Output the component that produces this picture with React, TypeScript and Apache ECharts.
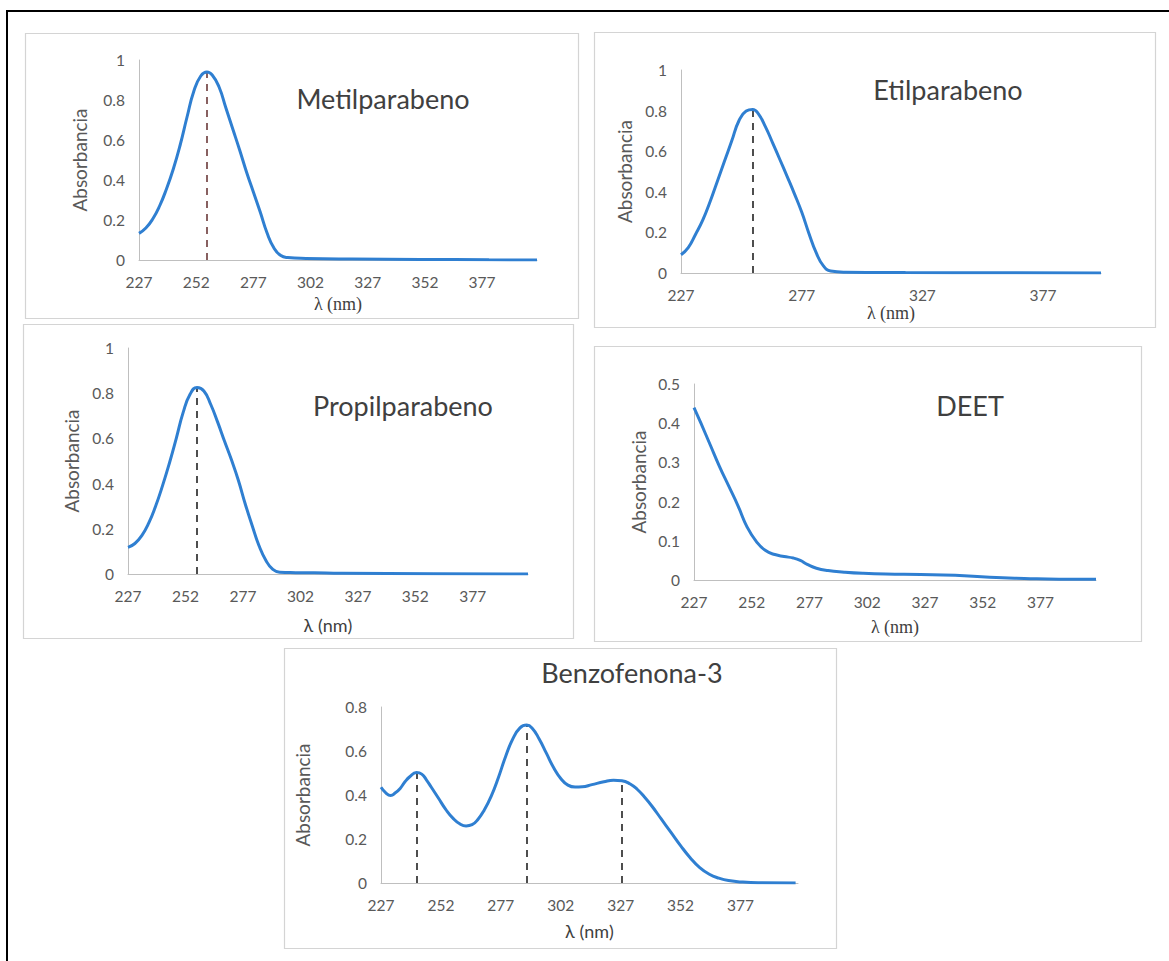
import { useEffect, useRef } from "react";
import * as echarts from "echarts";

// ---------- DATA ----------
const metilX = [227, 230, 233, 236, 239, 242, 245, 248, 251, 254, 256.7, 259, 262, 265, 268, 271, 274, 277, 280, 283, 286, 289, 292, 300, 320, 350, 380, 401];
const metilY = [0.133, 0.16, 0.205, 0.27, 0.355, 0.455, 0.575, 0.715, 0.845, 0.92, 0.94, 0.925, 0.865, 0.76, 0.655, 0.55, 0.44, 0.34, 0.24, 0.135, 0.06, 0.022, 0.012, 0.008, 0.005, 0.003, 0.001, 0];
const metilPeakX = [256.7];
const metilPeakY = [0.94];

const etilX = [227, 230, 233, 236, 239, 242, 245, 248, 251, 254, 256.7, 259, 262, 265, 268, 271, 274, 277, 280, 283, 286, 289, 295, 320, 360, 401];
const etilY = [0.09, 0.125, 0.19, 0.26, 0.35, 0.45, 0.55, 0.65, 0.75, 0.798, 0.806, 0.785, 0.72, 0.64, 0.558, 0.475, 0.39, 0.3, 0.195, 0.1, 0.035, 0.01, 0.004, 0.002, 0.001, 0];
const etilPeakX = [256.7];
const etilPeakY = [0.806];

const propilX = [227, 230, 233, 236, 239, 242, 245, 248, 251, 254, 257, 260, 263, 266, 269, 272, 275, 278, 281, 284, 287, 290, 293, 300, 308, 320, 360, 401];
const propilY = [0.118, 0.135, 0.17, 0.225, 0.3, 0.39, 0.49, 0.6, 0.715, 0.795, 0.825, 0.81, 0.75, 0.672, 0.587, 0.505, 0.415, 0.31, 0.215, 0.125, 0.06, 0.02, 0.008, 0.006, 0.005, 0.003, 0.001, 0];
const propilPeakX = [257];
const propilPeakY = [0.825];

const deetX = [227, 230, 234, 238, 242, 246, 250, 254, 258, 262, 266, 270, 273, 276, 280, 285, 292, 300, 310, 325, 340, 355, 370, 385, 401];
const deetY = [0.44, 0.4, 0.345, 0.29, 0.24, 0.19, 0.135, 0.098, 0.075, 0.065, 0.06, 0.056, 0.05, 0.04, 0.03, 0.024, 0.02, 0.017, 0.015, 0.014, 0.012, 0.007, 0.004, 0.002, 0.002];

const benzoX = [227, 229, 231, 233, 235, 237, 239, 241.8, 244, 246, 248, 251, 254, 257, 260, 262.5, 265, 267.5, 270, 273, 276, 279, 282, 285, 287.8, 290, 293, 296, 299, 302, 305, 308, 311, 315, 320, 324, 327.5, 331, 334, 337, 340, 344, 348, 352, 356, 360, 364, 368, 372, 378, 385, 400];
const benzoY = [0.435, 0.41, 0.398, 0.41, 0.43, 0.46, 0.483, 0.502, 0.495, 0.468, 0.435, 0.385, 0.335, 0.295, 0.268, 0.259, 0.265, 0.29, 0.33, 0.395, 0.48, 0.575, 0.655, 0.705, 0.718, 0.705, 0.655, 0.59, 0.525, 0.475, 0.445, 0.436, 0.437, 0.447, 0.46, 0.467, 0.465, 0.45, 0.425, 0.39, 0.35, 0.29, 0.23, 0.17, 0.115, 0.07, 0.04, 0.022, 0.011, 0.004, 0.001, 0];
const benzoPeakX = [241.8, 287.8, 327.5];
const benzoPeakY = [0.502, 0.718, 0.465];

const ticksAll = [227, 252, 277, 302, 327, 352, 377];
const ticksEtil = [227, 277, 327, 377];

const titles = ["Metilparabeno", "Etilparabeno", "Propilparabeno", "DEET", "Benzofenona-3"];
const yAxisName = "Absorbancia";
const xAxisName = "λ (nm)";

// ---------- LAYOUT ----------
const SANS = "Lato";
const SERIF = "Liberation Serif";
const BLUE = "#2f7fd1";

const panels = [
  { box: [25, 33, 553, 285], grid: { left: 139, top: 60, width: 398, height: 200 }, yMax: 1, yInt: 0.2, ticks: ticksAll, yGap: 50, xGap: 35, xFont: SERIF, title: [383, 98], x: metilX, y: metilY, px: metilPeakX, py: metilPeakY, dash: "#6b3a3a" },
  { box: [594, 32, 561, 295], grid: { left: 681, top: 70, width: 420, height: 203 }, yMax: 1, yInt: 0.2, ticks: ticksEtil, yGap: 47, xGap: 31, xFont: SERIF, title: [948, 89], x: etilX, y: etilY, px: etilPeakX, py: etilPeakY, dash: "#222" },
  { box: [23, 324, 550, 314], grid: { left: 128, top: 348, width: 400, height: 226 }, yMax: 1, yInt: 0.2, ticks: ticksAll, yGap: 47, xGap: 42, xFont: SANS, title: [403, 405], x: propilX, y: propilY, px: propilPeakX, py: propilPeakY, dash: "#222" },
  { box: [594, 346, 547, 295], grid: { left: 694, top: 384, width: 402, height: 196 }, yMax: 0.5, yInt: 0.1, ticks: ticksAll, yGap: 46, xGap: 38, xFont: SERIF, title: [970, 405], x: deetX, y: deetY, px: [] as number[], py: [] as number[], dash: "#222" },
  { box: [284, 648, 552, 300], grid: { left: 381, top: 707, width: 417, height: 176 }, yMax: 0.8, yInt: 0.2, ticks: ticksAll, yGap: 69, xGap: 39, xFont: SANS, title: [632, 672], x: benzoX, y: benzoY, px: benzoPeakX, py: benzoPeakY, dash: "#222" },
];

export default function App() {
  const ref = useRef<HTMLDivElement>(null);

  useEffect(() => {
    const chart = echarts.init(ref.current!, null, { renderer: "svg" });

    const grid = panels.map((p) => ({ ...p.grid, containLabel: false }));

    const xAxis = panels.map((p, i) => ({
      type: "value",
      gridIndex: i,
      min: 227,
      max: 401,
      axisLine: { show: true, lineStyle: { color: "#bfbfbf", width: 1 } },
      axisTick: { show: false },
      splitLine: { show: false },
      axisLabel: { customValues: p.ticks, color: "#595959", fontFamily: SANS, fontSize: 15.5, margin: 14 },
      name: xAxisName,
      nameLocation: "middle",
      nameGap: p.xGap,
      nameTextStyle: { fontFamily: p.xFont, fontSize: 18, color: "#404040" },
    }));

    const yAxis = panels.map((p, i) => ({
      type: "value",
      gridIndex: i,
      min: 0,
      max: p.yMax,
      interval: p.yInt,
      axisLine: { show: true, lineStyle: { color: "#bfbfbf", width: 1 } },
      axisTick: { show: false },
      splitLine: { show: false },
      axisLabel: { color: "#595959", fontFamily: SANS, fontSize: 15.5, margin: 14 },
      name: yAxisName,
      nameLocation: "middle",
      nameRotate: 90,
      nameGap: p.yGap,
      nameTextStyle: { fontFamily: SANS, fontSize: 19, color: "#595959" },
    }));

    const series = panels.map((p, i) => ({
      type: "line",
      xAxisIndex: i,
      yAxisIndex: i,
      data: p.x.map((xv, k) => [xv, p.y[k]]),
      smooth: 0.5,
      showSymbol: false,
      symbol: "none",
      lineStyle: { color: BLUE, width: 3 },
      z: 3,
      markLine: {
        silent: true,
        symbol: ["none", "none"],
        label: { show: false },
        lineStyle: { type: [7, 6], color: p.dash, width: 1.6 },
        data: p.px.map((xv, k) => [{ coord: [xv, 0] }, { coord: [xv, p.py[k]] }]),
        z: 2,
      },
    }));

    const graphic: any[] = [];
    panels.forEach((p, i) => {
      graphic.push({
        type: "rect",
        shape: { x: p.box[0] + 0.5, y: p.box[1] + 0.5, width: p.box[2], height: p.box[3] },
        style: { fill: "none", stroke: "#d4d4d4", lineWidth: 1.2 },
        z: -10,
      });
      graphic.push({
        type: "text",
        x: p.title[0],
        y: p.title[1],
        style: {
          text: titles[i],
          fill: "#404040",
          font: `27px ${SANS}`,
          textAlign: "center",
          textVerticalAlign: "middle",
        },
      });
    });
    graphic.push({ type: "line", shape: { x1: 7, y1: 11, x2: 1169, y2: 11 }, style: { stroke: "#000", lineWidth: 2 } });
    graphic.push({ type: "line", shape: { x1: 7, y1: 10, x2: 7, y2: 961 }, style: { stroke: "#000", lineWidth: 2 } });

    chart.setOption({
      animation: false,
      backgroundColor: "#ffffff",
      grid,
      xAxis,
      yAxis,
      series,
      graphic,
    } as any);

    return () => chart.dispose();
  }, []);

  return (
    <div
      ref={ref}
      style={{ position: "absolute", left: 0, top: 0, width: 1169, height: 961, background: "#fff" }}
    />
  );
}
